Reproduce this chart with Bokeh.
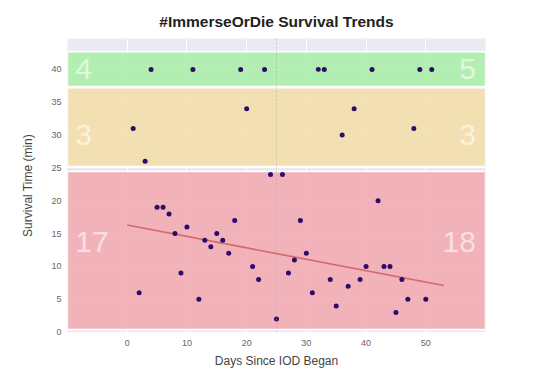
import numpy as np
from bokeh.plotting import figure
from bokeh.models import Span, ColumnDataSource, Range1d, Label
from bokeh.embed import file_html
from bokeh.resources import INLINE

# ---- data ----
days = [1, 2, 3, 4, 5, 6, 7, 8, 9, 10, 11, 12, 13, 14, 15, 16, 17, 18, 19, 20,
        21, 22, 23, 24, 25, 26, 27, 28, 29, 30, 31, 32, 33, 34, 35, 36, 37, 38, 39, 40,
        41, 42, 43, 44, 45, 46, 47, 48, 49, 50, 51]
survival = [31, 6, 26, 40, 19, 19, 18, 15, 9, 16, 40, 5, 14, 13, 15, 14, 12, 17, 40, 34,
            10, 8, 40, 24, 2, 24, 9, 11, 17, 12, 6, 40, 40, 8, 4, 30, 7, 34, 8, 10,
            40, 20, 10, 10, 3, 8, 5, 31, 40, 5, 40]

# trend line
trend_days = [0, 53]
trend_minutes = [16.3, 7.1]

band_names = ["short", "mid", "full"]
band_bottom = [0.4, 25.2, 37.4]
band_top = [24.45, 37.2, 42.7]
band_colors = ["#f2a8b0", "#f3dea7", "#a8efa7"]
band_label_y = [13.8, 30, 40]
split_day = 25

TITLE = "#ImmerseOrDie Survival Trends"
FONT = "Liberation Sans"

p = figure(frame_width=418, frame_height=294, output_backend="svg", toolbar_location=None,
           x_range=Range1d(-10, 60), y_range=Range1d(-0.05, 44.7),
           min_border_left=67, min_border_right=40, min_border_top=38, min_border_bottom=38)

p.background_fill_color = "#eaeaf2"
p.border_fill_color = "white"
p.outline_line_color = None

p.title.text = TITLE
p.title.align = "center"
p.title.text_font = FONT
p.title.text_font_size = "15.5px"
p.title.text_font_style = "bold"
p.title.text_color = "#222222"
p.title.standoff = 18

for ax in (p.xaxis, p.yaxis):
    ax.axis_line_color = None
    ax.major_tick_line_color = None
    ax.minor_tick_line_color = None
    ax.major_label_text_font = FONT
    ax.major_label_text_font_size = "9px"
    ax.major_label_text_color = "#666666"
    ax.axis_label_text_font = FONT
    ax.axis_label_text_font_size = "12px"
    ax.axis_label_text_font_style = "normal"
    ax.axis_label_text_color = "#444444"

p.xaxis.axis_label = "Days Since IOD Began"
p.yaxis.axis_label = "Survival Time (min)"
p.xaxis.ticker = [0, 10, 20, 30, 40, 50]
p.yaxis.ticker = [0, 5, 10, 15, 20, 25, 30, 35, 40]
p.xaxis.major_label_standoff = 1
p.yaxis.major_label_standoff = 0
p.xaxis.axis_label_standoff = 5
p.yaxis.axis_label_standoff = 13

p.xgrid.ticker = [-10, 0, 10, 20, 30, 40, 50, 60]
p.grid.grid_line_color = "white"
p.grid.grid_line_width = 1

# bands
bsrc = ColumnDataSource(dict(bottom=band_bottom, top=band_top, color=band_colors))
p.quad(left=-10, right=60, bottom="bottom", top="top", fill_color="color",
       fill_alpha=0.85, line_color="white", line_width=1.5, source=bsrc)

# split line
p.add_layout(Span(location=split_day, dimension="height", line_color="#b0a8b0",
                  line_alpha=0.55, line_dash="2 2", line_width=1))

# trend line
p.line(trend_days, trend_minutes, line_color="#cd5c5c", line_width=1.6, line_alpha=0.85)

# points
p.scatter(days, survival, size=5, fill_color="#2d0b6b", line_color=None)

# counts per band, left / right of the split day
d = np.array(days, dtype=float)
s = np.array(survival, dtype=float)
for lo, hi, ly in zip(band_bottom, band_top, band_label_y):
    in_band = (s >= lo - 0.5) & (s <= hi + 0.5)
    left_n = int(np.sum(in_band & (d < split_day)))
    right_n = int(np.sum(in_band & (d > split_day)))
    p.add_layout(Label(x=-8.7, y=ly, text=str(left_n), text_align="left",
                       text_baseline="middle", text_font=FONT, text_font_size="30px",
                       text_color="white", text_alpha=0.6))
    p.add_layout(Label(x=58.4, y=ly, text=str(right_n), text_align="right",
                       text_baseline="middle", text_font=FONT, text_font_size="30px",
                       text_color="white", text_alpha=0.6))

open("out.html", "w").write(file_html(p, INLINE))
